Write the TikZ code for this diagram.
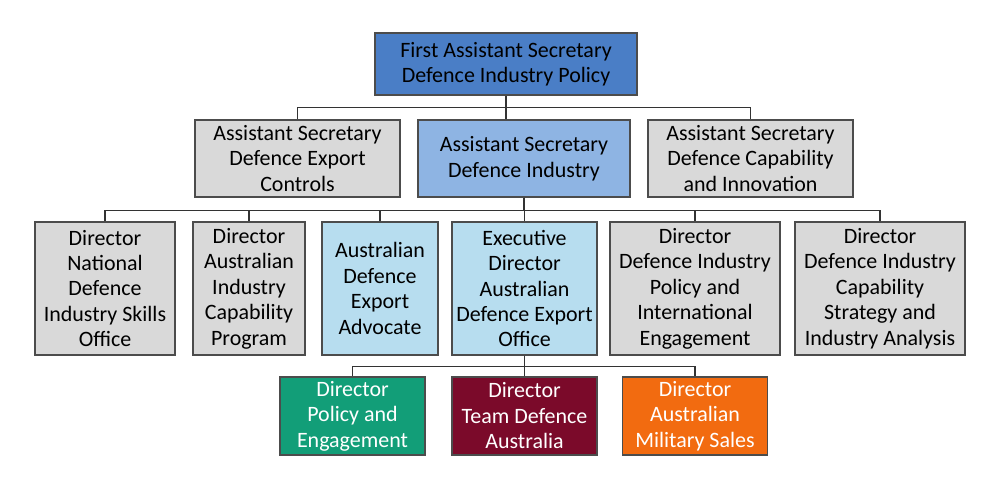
\documentclass[tikz,border=0pt]{standalone}
\usepackage{fontspec}
\setmainfont{Carlito}
\definecolor{topblue}{HTML}{4A7EC6}
\definecolor{midblue}{HTML}{8EB4E3}
\definecolor{paleblue}{HTML}{B7DDEF}
\definecolor{boxgray}{HTML}{D9D9D9}
\definecolor{dgreen}{HTML}{129E78}
\definecolor{dred}{HTML}{7B0A2A}
\definecolor{dorange}{HTML}{F26B10}
\begin{document}
\begin{tikzpicture}[x=0.02cm,y=-0.02cm,font=\fontsize{12.5}{14.5}\selectfont]

  \tikzstyle{unit}=[draw=black!70,line width=0.6pt,inner sep=0pt,align=center]
  \tikzstyle{link}=[draw=black!80,line width=0.6pt]

  \useasboundingbox (0,0) rectangle (999,502);

  % top
  \node[unit,fill=topblue,minimum width=262*0.02cm,minimum height=62*0.02cm] (fas) at (506,64)
    {First Assistant Secretary\\Defence Industry Policy};

  % assistant secretaries
  \foreach \name/\x/\w/\col/\text in {as-1/297.5/205/boxgray/{Assistant Secretary\\Defence Export\\Controls},
                                      as-2/524/212/midblue/{Assistant Secretary\\Defence Industry},
                                      as-3/750.5/205/boxgray/{Assistant Secretary\\Defence Capability\\and Innovation}}
    \node[unit,fill=\col,minimum width=\w*0.02cm,minimum height=77*0.02cm] (\name) at (\x,158.5) {\text};

  % directors
  \foreach \name/\x/\w/\col/\text in {d-1/105/140/boxgray/{Director\\National\\Defence\\Industry Skills\\Office},
                                      d-2/249/112/boxgray/{Director\\Australian\\Industry\\Capability\\Program},
                                      d-3/380/116/paleblue/{Australian\\Defence\\Export\\Advocate},
                                      d-4/524.5/145/paleblue/{Executive\\Director\\Australian\\Defence Export\\Office},
                                      d-5/695/170/boxgray/{Director\\Defence Industry\\Policy and\\International\\Engagement},
                                      d-6/880/170/boxgray/{Director\\Defence Industry\\Capability\\Strategy and\\Industry Analysis}}
    \node[unit,fill=\col,minimum width=\w*0.02cm,minimum height=133*0.02cm] (\name) at (\x,288.5) {\text};

  % export office branches
  \foreach \name/\x/\col/\text in {e-1/352.5/dgreen/{Director\\Policy and\\Engagement},
                                   e-2/524.5/dred/{Director\\Team Defence\\Australia},
                                   e-3/695/dorange/{Director\\Australian\\Military Sales}}
    \node[unit,fill=\col,text=white,minimum width=145*0.02cm,minimum height=78*0.02cm] (\name) at (\x,416) {\text};

  % connectors
  \draw[link] (fas.south) -- ++(0,12) -| (as-1.north);
  \draw[link] (fas.south) ++(0,12) -| (as-3.north);
  \draw[link] (fas.south) -- (fas.south |- as-2.north);
  \foreach \to in {1,2,3,4,5,6}
    \draw[link] (as-2.south) -- ++(0,13) -| (d-\to.north);
  \foreach \to in {1,2,3}
    \draw[link] (d-4.south) -- ++(0,11) -| (e-\to.north);
\end{tikzpicture}
\end{document}
